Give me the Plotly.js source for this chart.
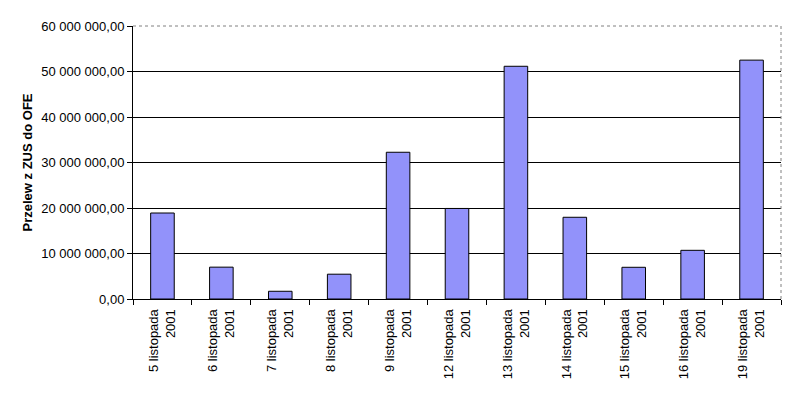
<!DOCTYPE html>
<html>
<head>
<meta charset="utf-8">
<script src="https://cdn.plot.ly/plotly-3.0.1.min.js"></script>
<style>html,body{margin:0;padding:0;background:#fff;}#chart{width:807px;height:403px;}</style>
</head>
<body>
<div id="chart"></div>
<script>
var days = ["5", "6", "7", "8", "9", "12", "13", "14", "15", "16", "19"];
var monthLabel = "listopada";
var yearLabel = "2001";
var transfers = [18900000, 7000000, 1700000, 5450000, 32250000, 19900000, 51150000, 17960000, 6970000, 10700000, 52500000];
var yTicks = [0, 10000000, 20000000, 30000000, 40000000, 50000000, 60000000];

var categories = days.map(function (d) { return d + " " + monthLabel + "<br>" + yearLabel; });

var trace = {
  type: "bar",
  x: categories,
  y: transfers,
  width: 0.4,
  marker: { color: "#9292FA", line: { color: "#000000", width: 1 } },
  hoverinfo: "skip"
};

var layout = {
  width: 807,
  height: 403,
  margin: { l: 133, r: 26, t: 26, b: 104 },
  paper_bgcolor: "#ffffff",
  plot_bgcolor: "#ffffff",
  separators: ", ",
  showlegend: false,
  font: { family: "Liberation Sans, Arial, sans-serif", size: 13, color: "#000000" },
  xaxis: {
    type: "category",
    tickangle: -90,
    ticks: "outside",
    tickson: "boundaries",
    ticklen: 5,
    tickcolor: "#000000",
    ticklabelstandoff: 4,
    showline: true,
    linecolor: "#000000",
    linewidth: 1,
    showgrid: false,
    zeroline: false,
    automargin: false,
    tickfont: { size: 13 }
  },
  yaxis: {
    range: [0, 60000000],
    tickvals: yTicks,
    tickformat: ",.2f",
    ticks: "outside",
    ticklen: 5,
    tickcolor: "#000000",
    showline: true,
    linecolor: "#000000",
    linewidth: 1,
    showgrid: true,
    gridcolor: "#000000",
    gridwidth: 1,
    zeroline: false,
    automargin: false,
    tickfont: { size: 13 },
    title: { text: "Przelew z ZUS do OFE", font: { size: 13, weight: "bold" }, standoff: 5 }
  },
  shapes: [
    { type: "line", xref: "paper", yref: "paper", x0: 0.002, x1: 1, y0: 1, y1: 1, layer: "above", line: { color: "#ffffff", width: 2 } },
    { type: "line", xref: "paper", yref: "paper", x0: 0, x1: 1, y0: 1, y1: 1, layer: "above", line: { color: "#808080", width: 1, dash: "dot" } },
    { type: "line", xref: "paper", yref: "paper", x0: 1, x1: 1, y0: 0, y1: 1, layer: "above", line: { color: "#808080", width: 1, dash: "dot" } }
  ]
};

Plotly.newPlot("chart", [trace], layout, { displayModeBar: false, staticPlot: true });
</script>
</body>
</html>
